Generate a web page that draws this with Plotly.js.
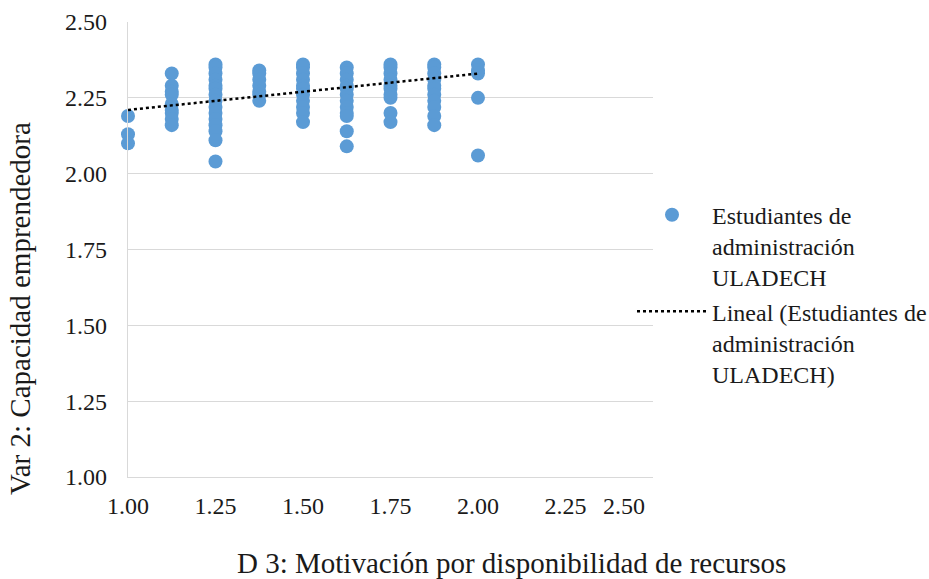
<!DOCTYPE html>
<html>
<head>
<meta charset="utf-8">
<script src="https://cdn.plot.ly/plotly-3.0.1.min.js"></script>
<style>html,body{margin:0;padding:0;background:#fff;}#chart{width:929px;height:579px;}</style>
</head>
<body>
<div id="chart"></div>
<script>
// x positions of the columns of points (D 3)
const columnX = [1.0, 1.125, 1.25, 1.375, 1.5, 1.625, 1.75, 1.875, 2.0];
// y values (Var 2) in each column
const yCol100 = [2.19, 2.13, 2.10];
const yCol1125 = [2.33, 2.29, 2.27, 2.26, 2.23, 2.21, 2.20, 2.18, 2.16];
const yCol125 = [2.36, 2.35, 2.33, 2.31, 2.29, 2.28, 2.26, 2.24, 2.22, 2.20, 2.18, 2.16, 2.14, 2.11, 2.04];
const yCol1375 = [2.34, 2.33, 2.31, 2.29, 2.27, 2.26, 2.24];
const yCol150 = [2.36, 2.35, 2.33, 2.31, 2.29, 2.28, 2.26, 2.24, 2.22, 2.20, 2.17];
const yCol1625 = [2.35, 2.33, 2.31, 2.29, 2.28, 2.26, 2.24, 2.22, 2.20, 2.19, 2.14, 2.09];
const yCol175 = [2.36, 2.35, 2.33, 2.31, 2.29, 2.28, 2.26, 2.25, 2.20, 2.17];
const yCol1875 = [2.36, 2.35, 2.33, 2.31, 2.29, 2.28, 2.26, 2.24, 2.22, 2.19, 2.16];
const yCol200 = [2.36, 2.34, 2.33, 2.25, 2.06];
// linear trend line end points
const trendX = [1.0, 2.0];
const trendY = [2.21, 2.33];
// tick labels
const tickVals = [1.0, 1.25, 1.5, 1.75, 2.0, 2.25, 2.5];
const tickText = ["1.00", "1.25", "1.50", "1.75", "2.00", "2.25", "2.50"];
const seriesName = "Estudiantes de<br>administración<br>ULADECH";
const trendName = "Lineal (Estudiantes de<br>administración<br>ULADECH)";
const xTitle = "D 3: Motivación por disponibilidad de recursos";
const yTitle = "Var 2: Capacidad emprendedora";

const columnsY = [yCol100, yCol1125, yCol125, yCol1375, yCol150, yCol1625, yCol175, yCol1875, yCol200];
const xs = [], ys = [];
columnsY.forEach((arr, i) => arr.forEach(v => { xs.push(columnX[i]); ys.push(v); }));

const font = "Liberation Serif, Times New Roman, serif";
const textColor = "#1a1a1a";
const last = tickVals.length - 1;

const traces = [
  {
    type: "scatter", mode: "markers", x: xs, y: ys, name: seriesName,
    legendgroup: "a",
    marker: {color: "#5B9BD5", size: 14, line: {width: 0}},
    cliponaxis: false
  },
  {
    type: "scatter", mode: "lines", x: trendX, y: trendY, name: trendName,
    legendgroup: "b",
    line: {color: "#000000", width: 2.5, dash: "dot"}
  }
];

const axisCommon = {
  range: [1, 2.5],
  tickvals: tickVals,
  gridcolor: "#d9d9d9", gridwidth: 1.3,
  showline: true, linecolor: "#d9d9d9", linewidth: 1.3,
  zeroline: false, ticks: "",
  tickfont: {family: font, size: 24, color: textColor},
  fixedrange: true, automargin: false
};

const layout = {
  width: 929, height: 579,
  margin: {l: 128, r: 276, t: 22, b: 102, autoexpand: false},
  paper_bgcolor: "#ffffff", plot_bgcolor: "#ffffff",
  showlegend: true,
  legend: {
    x: 0.96, xanchor: "left", y: 0.625, yanchor: "top",
    font: {family: font, size: 24, color: textColor},
    itemwidth: 70, tracegroupgap: 0, valign: "top",
    bgcolor: "rgba(0,0,0,0)"
  },
  xaxis: Object.assign({}, axisCommon, {
    showgrid: false, ticklabelstandoff: 7,
    ticktext: tickText.map((t, i) => i === last ? "" : t)
  }),
  yaxis: Object.assign({}, axisCommon, {
    showgrid: true, ticklabelstandoff: 15, ticktext: tickText
  }),
  annotations: [
    {text: tickText[last], xref: "x", yref: "paper", x: tickVals[last], xshift: -29,
     y: 0, yshift: -29, xanchor: "center", yanchor: "middle", showarrow: false,
     font: {family: font, size: 24, color: textColor}},
    {text: xTitle, xref: "paper", yref: "paper", x: (511 - 128) / 525, y: -(563 - 477) / 455,
     xanchor: "center", yanchor: "middle", showarrow: false,
     font: {family: font, size: 29, color: textColor}},
    {text: yTitle, xref: "paper", yref: "paper", x: -(128 - 20) / 525, y: (477 - 309) / 455,
     xanchor: "center", yanchor: "middle", showarrow: false, textangle: -90,
     font: {family: font, size: 29, color: textColor}}
  ]
};

Plotly.newPlot("chart", traces, layout, {staticPlot: true, displayModeBar: false});
</script>
</body>
</html>
